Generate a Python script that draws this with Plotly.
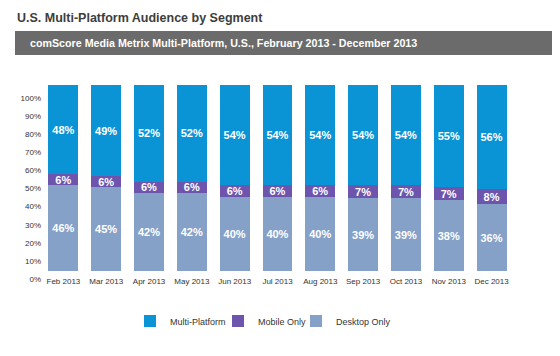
import plotly.graph_objects as go

months = ["Feb 2013", "Mar 2013", "Apr 2013", "May 2013", "Jun 2013", "Jul 2013",
          "Aug 2013", "Sep 2013", "Oct 2013", "Nov 2013", "Dec 2013"]
multi_platform = [48, 49, 52, 52, 54, 54, 54, 54, 54, 55, 56]
mobile_only = [6, 6, 6, 6, 6, 6, 6, 7, 7, 7, 8]
desktop_only = [46, 45, 42, 42, 40, 40, 40, 39, 39, 38, 36]
y_ticks = [0, 10, 20, 30, 40, 50, 60, 70, 80, 90, 100]
y_tick_labels = [f"{v}%" for v in y_ticks]

# the page body has an 8px margin: the figure starts at (8, 8) of the window
OFF = 8
WIN_W, WIN_H = 560, 356
W, H = WIN_W - OFF, WIN_H - OFF
PLOT_L, PLOT_R, PLOT_T, PLOT_B = 42, 513, 85, 280   # window pixels
ML, MR, MT, MB = PLOT_L - OFF, WIN_W - PLOT_R, PLOT_T - OFF, WIN_H - PLOT_B
PW = PLOT_R - PLOT_L
PH = PLOT_B - PLOT_T
BAR_BOTTOM_PX = 271          # window row of 0 for the bars
BAR_TOP_PX = 85              # window row of 100 for the bars
LBL_BOTTOM_PX = 279          # window row of the "0%" label
LBL_TOP_PX = 98              # window row of the "100%" label

bar_px_per_unit = (BAR_BOTTOM_PX - BAR_TOP_PX) / 100.0
y_min = -(PLOT_B - BAR_BOTTOM_PX) / bar_px_per_unit


def label_to_axis(v):
    pix = LBL_BOTTOM_PX - v * (LBL_BOTTOM_PX - LBL_TOP_PX) / 100.0
    return (BAR_BOTTOM_PX - pix) / bar_px_per_unit


def px(x):
    return (x - PLOT_L) / PW


def py(y):
    return (PLOT_B - y) / PH


FONT = "Liberation Sans, Arial, sans-serif"
label_font = dict(family=FONT, size=11, color="white", weight="bold")
legend_font = dict(family=FONT, size=9, color="#333333")

series = [("Desktop Only", desktop_only, "#86a1c8", "legend3", 334),
          ("Mobile Only", mobile_only, "#6d55ad", "legend2", 256),
          ("Multi-Platform", multi_platform, "#0a94d6", "legend", 168)]

fig = go.Figure()
legends = {}
for name, vals, color, leg, text_x in series:
    fig.add_trace(go.Bar(
        x=months, y=vals, name=name, legend=leg,
        marker=dict(color=color, line=dict(width=0)),
        texttemplate="%{y}%", textposition="inside", insidetextanchor="middle",
        constraintext="none", textfont=label_font, width=0.7,
    ))
    legends[leg] = dict(orientation="h", x=px(text_x - 38), xanchor="left", y=py(321),
                        yanchor="middle", font=legend_font, bgcolor="rgba(0,0,0,0)")

fig.update_layout(
    width=W, height=H, margin=dict(l=ML, r=MR, t=MT, b=MB),
    barmode="stack", plot_bgcolor="white", paper_bgcolor="white",
    xaxis=dict(type="category", range=[-0.5, 10.5], showgrid=False, showline=False,
               zeroline=False, ticks="", anchor="free", position=py(BAR_BOTTOM_PX),
               tickangle=0, ticklabelstandoff=4,
               tickfont=dict(family=FONT, size=8, color="#333333")),
    yaxis=dict(range=[y_min, 100], tickvals=[label_to_axis(v) for v in y_ticks],
               ticktext=y_tick_labels, showgrid=False, zeroline=False, showline=False,
               ticks="", tickfont=dict(family=FONT, size=8, color="#333333")),
    showlegend=True,
    shapes=[dict(type="rect", xref="paper", yref="paper", x0=px(15), x1=px(WIN_W),
                 y0=py(55), y1=py(31), fillcolor="#6b6b6b", line=dict(width=0), layer="below")],
    annotations=[
        dict(text="U.S. Multi-Platform Audience by Segment", xref="paper", yref="paper",
             x=px(15), y=py(18), xanchor="left", yanchor="middle", showarrow=False,
             font=dict(family=FONT, size=12.5, color="#3d3d3d", weight="bold")),
        dict(text="comScore Media Metrix Multi-Platform, U.S., February 2013 - December 2013",
             xref="paper", yref="paper", x=px(28), y=py(43), xanchor="left", yanchor="middle",
             showarrow=False,
             font=dict(family=FONT, size=10.7, color="white", weight="bold")),
    ],
    **legends,
)

fig.write_html("out.html")
